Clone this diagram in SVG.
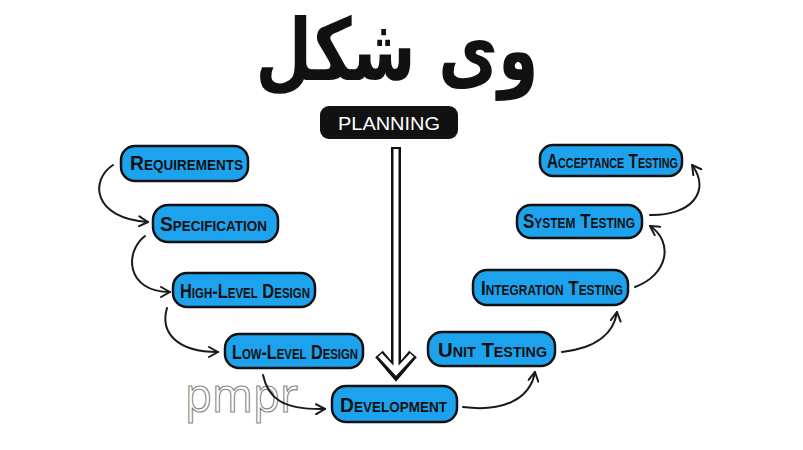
<svg xmlns="http://www.w3.org/2000/svg" width="803" height="450" viewBox="0 0 803 450">
<defs>
<style>
.node rect{fill:#1DA3EE;stroke:#111;stroke-width:2.5}
.node text{font-family:"Liberation Sans",Arial,sans-serif;font-size:20px;font-weight:bold;font-variant:small-caps;fill:#111;text-anchor:start;dominant-baseline:central}
.conn path{fill:none;stroke:#1a1a1a;stroke-width:2;stroke-linecap:round}
</style>
<marker id="ah" viewBox="0 0 12 12" refX="10" refY="6" markerWidth="12" markerHeight="12" markerUnits="userSpaceOnUse" orient="auto">
<path d="M1,1 L10,6 L1,11" fill="none" stroke="#1a1a1a" stroke-width="2" stroke-linecap="round" stroke-linejoin="round"/>
</marker>
</defs>
<rect width="803" height="450" fill="#fff"/>

<g id="title">
<text x="397" y="80" font-family="DejaVu Sans,sans-serif" font-weight="bold" font-size="86" text-anchor="middle" textLength="283" lengthAdjust="spacingAndGlyphs" fill="#111">وی شکل</text>
</g>

<g id="watermark">
<text x="185" y="412" font-family="Open Sans,sans-serif" font-size="48" textLength="113" lengthAdjust="spacingAndGlyphs" fill="#fff" stroke="#888" stroke-width="1.2">pmpr</text>
</g>

<g id="planning">
<rect x="320" y="106" width="138" height="33" rx="9" fill="#111"/>
<text x="389" y="123" font-family="Liberation Sans,sans-serif" font-size="19" fill="#fff" text-anchor="middle" dominant-baseline="central" textLength="102" lengthAdjust="spacingAndGlyphs">PLANNING</text>
</g>

<g id="big-arrow">
<path d="M396,147 L396,373 M379,354 L396,374 L413,354" fill="none" stroke="#111" stroke-width="10" stroke-linejoin="miter"/>
<path d="M396,149 L396,371 M380,355 L396,372 L412,355" fill="none" stroke="#fff" stroke-width="5" stroke-linejoin="miter"/>
</g>

<g class="conn" id="connectors">
<path d="M113,165 C90,180 92,218 148,222" marker-end="url(#ah)"/>
<path d="M145,236 C124,252 126,292 170,292" marker-end="url(#ah)"/>
<path d="M167,308 C160,332 176,352 218,352" marker-end="url(#ah)"/>
<path d="M263,375 C268,398 282,410 325,409" marker-end="url(#ah)"/>
<path d="M463,407 C502,412 530,400 535,372" marker-end="url(#ah)"/>
<path d="M562,352 C598,348 614,332 617,312" marker-end="url(#ah)"/>
<path d="M635,287 C668,275 674,242 650,226" marker-end="url(#ah)"/>
<path d="M650,215 C690,216 712,192 692,165" marker-end="url(#ah)"/>
</g>

<g class="node" id="requirements"><rect x="121" y="146" width="127" height="35" rx="14"/><text x="130" y="163" textLength="113" lengthAdjust="spacingAndGlyphs">Requirements</text></g>
<g class="node" id="specification"><rect x="153" y="205" width="125" height="37" rx="15"/><text x="160" y="224" textLength="107" lengthAdjust="spacingAndGlyphs">Specification</text></g>
<g class="node" id="high-level-design"><rect x="173" y="273" width="142" height="34" rx="14"/><text x="180" y="291" textLength="130" lengthAdjust="spacingAndGlyphs">High-Level Design</text></g>
<g class="node" id="low-level-design"><rect x="225" y="334" width="138" height="34" rx="14"/><text x="232" y="352" textLength="126" lengthAdjust="spacingAndGlyphs">Low-Level Design</text></g>
<g class="node" id="development"><rect x="332" y="386" width="125" height="36" rx="14"/><text x="340" y="405" textLength="107" lengthAdjust="spacingAndGlyphs">Development</text></g>
<g class="node" id="unit-testing"><rect x="428" y="332" width="127" height="34" rx="14"/><text x="438" y="350" textLength="109" lengthAdjust="spacingAndGlyphs">Unit Testing</text></g>
<g class="node" id="integration-testing"><rect x="473" y="270" width="155" height="35" rx="14"/><text x="481" y="288" textLength="142" lengthAdjust="spacingAndGlyphs">Integration Testing</text></g>
<g class="node" id="system-testing"><rect x="517" y="205" width="125" height="33" rx="14"/><text x="523" y="221" textLength="112" lengthAdjust="spacingAndGlyphs">System Testing</text></g>
<g class="node" id="acceptance-testing"><rect x="540" y="145" width="142" height="31" rx="13"/><text x="547" y="161" textLength="131" lengthAdjust="spacingAndGlyphs">Acceptance Testing</text></g>
</svg>
